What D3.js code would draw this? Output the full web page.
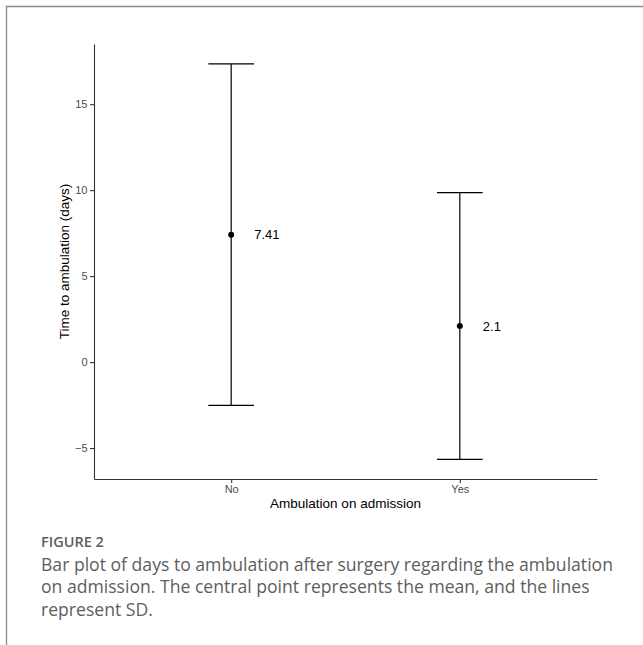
<!DOCTYPE html>
<html lang="en">

<head>
  <meta charset="UTF-8" />
  <title>Figure 2</title>
  <script src="https://d3js.org/d3.v7.min.js"></script>
  <style>
    body {
      margin: 0;
      background-color: #fff;
    }

    .axis path,
    .axis line {
      stroke: #333;
      stroke-width: 1.1px;
    }

    .axis text {
      font-family: "Liberation Sans", Arial, sans-serif;
      font-size: 11px;
      fill: #4d4d4d;
    }

    .title {
      font-family: "Liberation Sans", Arial, sans-serif;
      font-size: 13.5px;
      fill: #000;
    }

    .caption {
      font-family: "Open Sans", sans-serif;
      fill: #5e5e5e;
    }
  </style>
</head>

<body>
  <svg id="chart" width="643" height="645"></svg>

  <script>
    // data
    const groups = ["No", "Yes"];
    const means = [7.41, 2.1];
    const sds = [9.93, 7.76];
    const meanLabels = ["7.41", "2.1"];
    const yTicks = [-5, 0, 5, 10, 15];
    const captionLines = [
      "Bar plot of days to ambulation after surgery regarding the ambulation",
      "on admission. The central point represents the mean, and the lines",
      "represent SD."
    ];

    const svg = d3.select("#chart");
    const plot = { left: 94, right: 597, top: 44, bottom: 479 };

    // frame (top + left border)
    svg.append("path")
      .attr("d", "M6.5,645V6.5H643")
      .attr("fill", "none")
      .attr("stroke", "#8a8a8a")
      .attr("stroke-width", 1.3);

    const x = d3.scalePoint()
      .domain(groups)
      .range([plot.left, plot.right])
      .padding(0.6);

    const y = d3.scaleLinear()
      .domain([-6.8, 18.5])
      .range([plot.bottom, plot.top]);

    svg.append("g")
      .attr("class", "axis")
      .attr("transform", `translate(${plot.left},0)`)
      .call(d3.axisLeft(y).tickValues(yTicks).tickSize(4).tickSizeOuter(0).tickPadding(2.5)
        .tickFormat(d => d < 0 ? "\u2212" + Math.abs(d) : d));

    svg.append("g")
      .attr("class", "axis")
      .attr("transform", `translate(0,${plot.bottom})`)
      .call(d3.axisBottom(x).tickSize(4).tickSizeOuter(0).tickPadding(2));

    const rows = groups.map((g, i) => ({ g: g, m: means[i], sd: sds[i], lbl: meanLabels[i] }));
    const capW = x.step() * 0.1;

    const bars = svg.append("g")
      .selectAll("g")
      .data(rows)
      .join("g")
      .attr("stroke", "#000")
      .attr("stroke-width", 1.2);

    bars.append("line")
      .attr("x1", d => x(d.g)).attr("x2", d => x(d.g))
      .attr("y1", d => y(d.m + d.sd)).attr("y2", d => y(d.m - d.sd));

    bars.append("line")
      .attr("x1", d => x(d.g) - capW).attr("x2", d => x(d.g) + capW)
      .attr("y1", d => y(d.m + d.sd)).attr("y2", d => y(d.m + d.sd));

    bars.append("line")
      .attr("x1", d => x(d.g) - capW).attr("x2", d => x(d.g) + capW)
      .attr("y1", d => y(d.m - d.sd)).attr("y2", d => y(d.m - d.sd));

    svg.append("g")
      .selectAll("circle")
      .data(rows)
      .join("circle")
      .attr("cx", d => x(d.g))
      .attr("cy", d => y(d.m))
      .attr("r", 3)
      .attr("fill", "#000");

    svg.append("g")
      .selectAll("text")
      .data(rows)
      .join("text")
      .attr("class", "title")
      .attr("x", d => x(d.g) + 23)
      .attr("y", d => y(d.m))
      .attr("dy", "0.35em")
      .style("font-size", "13px")
      .text(d => d.lbl);

    // axis titles
    svg.append("text")
      .attr("class", "title")
      .attr("x", (plot.left + plot.right) / 2)
      .attr("y", 508)
      .attr("text-anchor", "middle")
      .text("Ambulation on admission");

    svg.append("text")
      .attr("class", "title")
      .attr("transform", `translate(69,${(plot.top + plot.bottom) / 2}) rotate(-90)`)
      .attr("text-anchor", "middle")
      .text("Time to ambulation (days)");

    // caption
    svg.append("text")
      .attr("class", "caption")
      .attr("x", 41)
      .attr("y", 546.5)
      .style("font-size", "14.5px")
      .style("font-weight", 600)
      .text("FIGURE 2");

    svg.append("g")
      .selectAll("text")
      .data(captionLines)
      .join("text")
      .attr("class", "caption")
      .attr("x", 41)
      .attr("y", (d, i) => 570.5 + i * 22.5)
      .style("font-size", "17.6px")
      .text(d => d);
  </script>
</body>

</html>
